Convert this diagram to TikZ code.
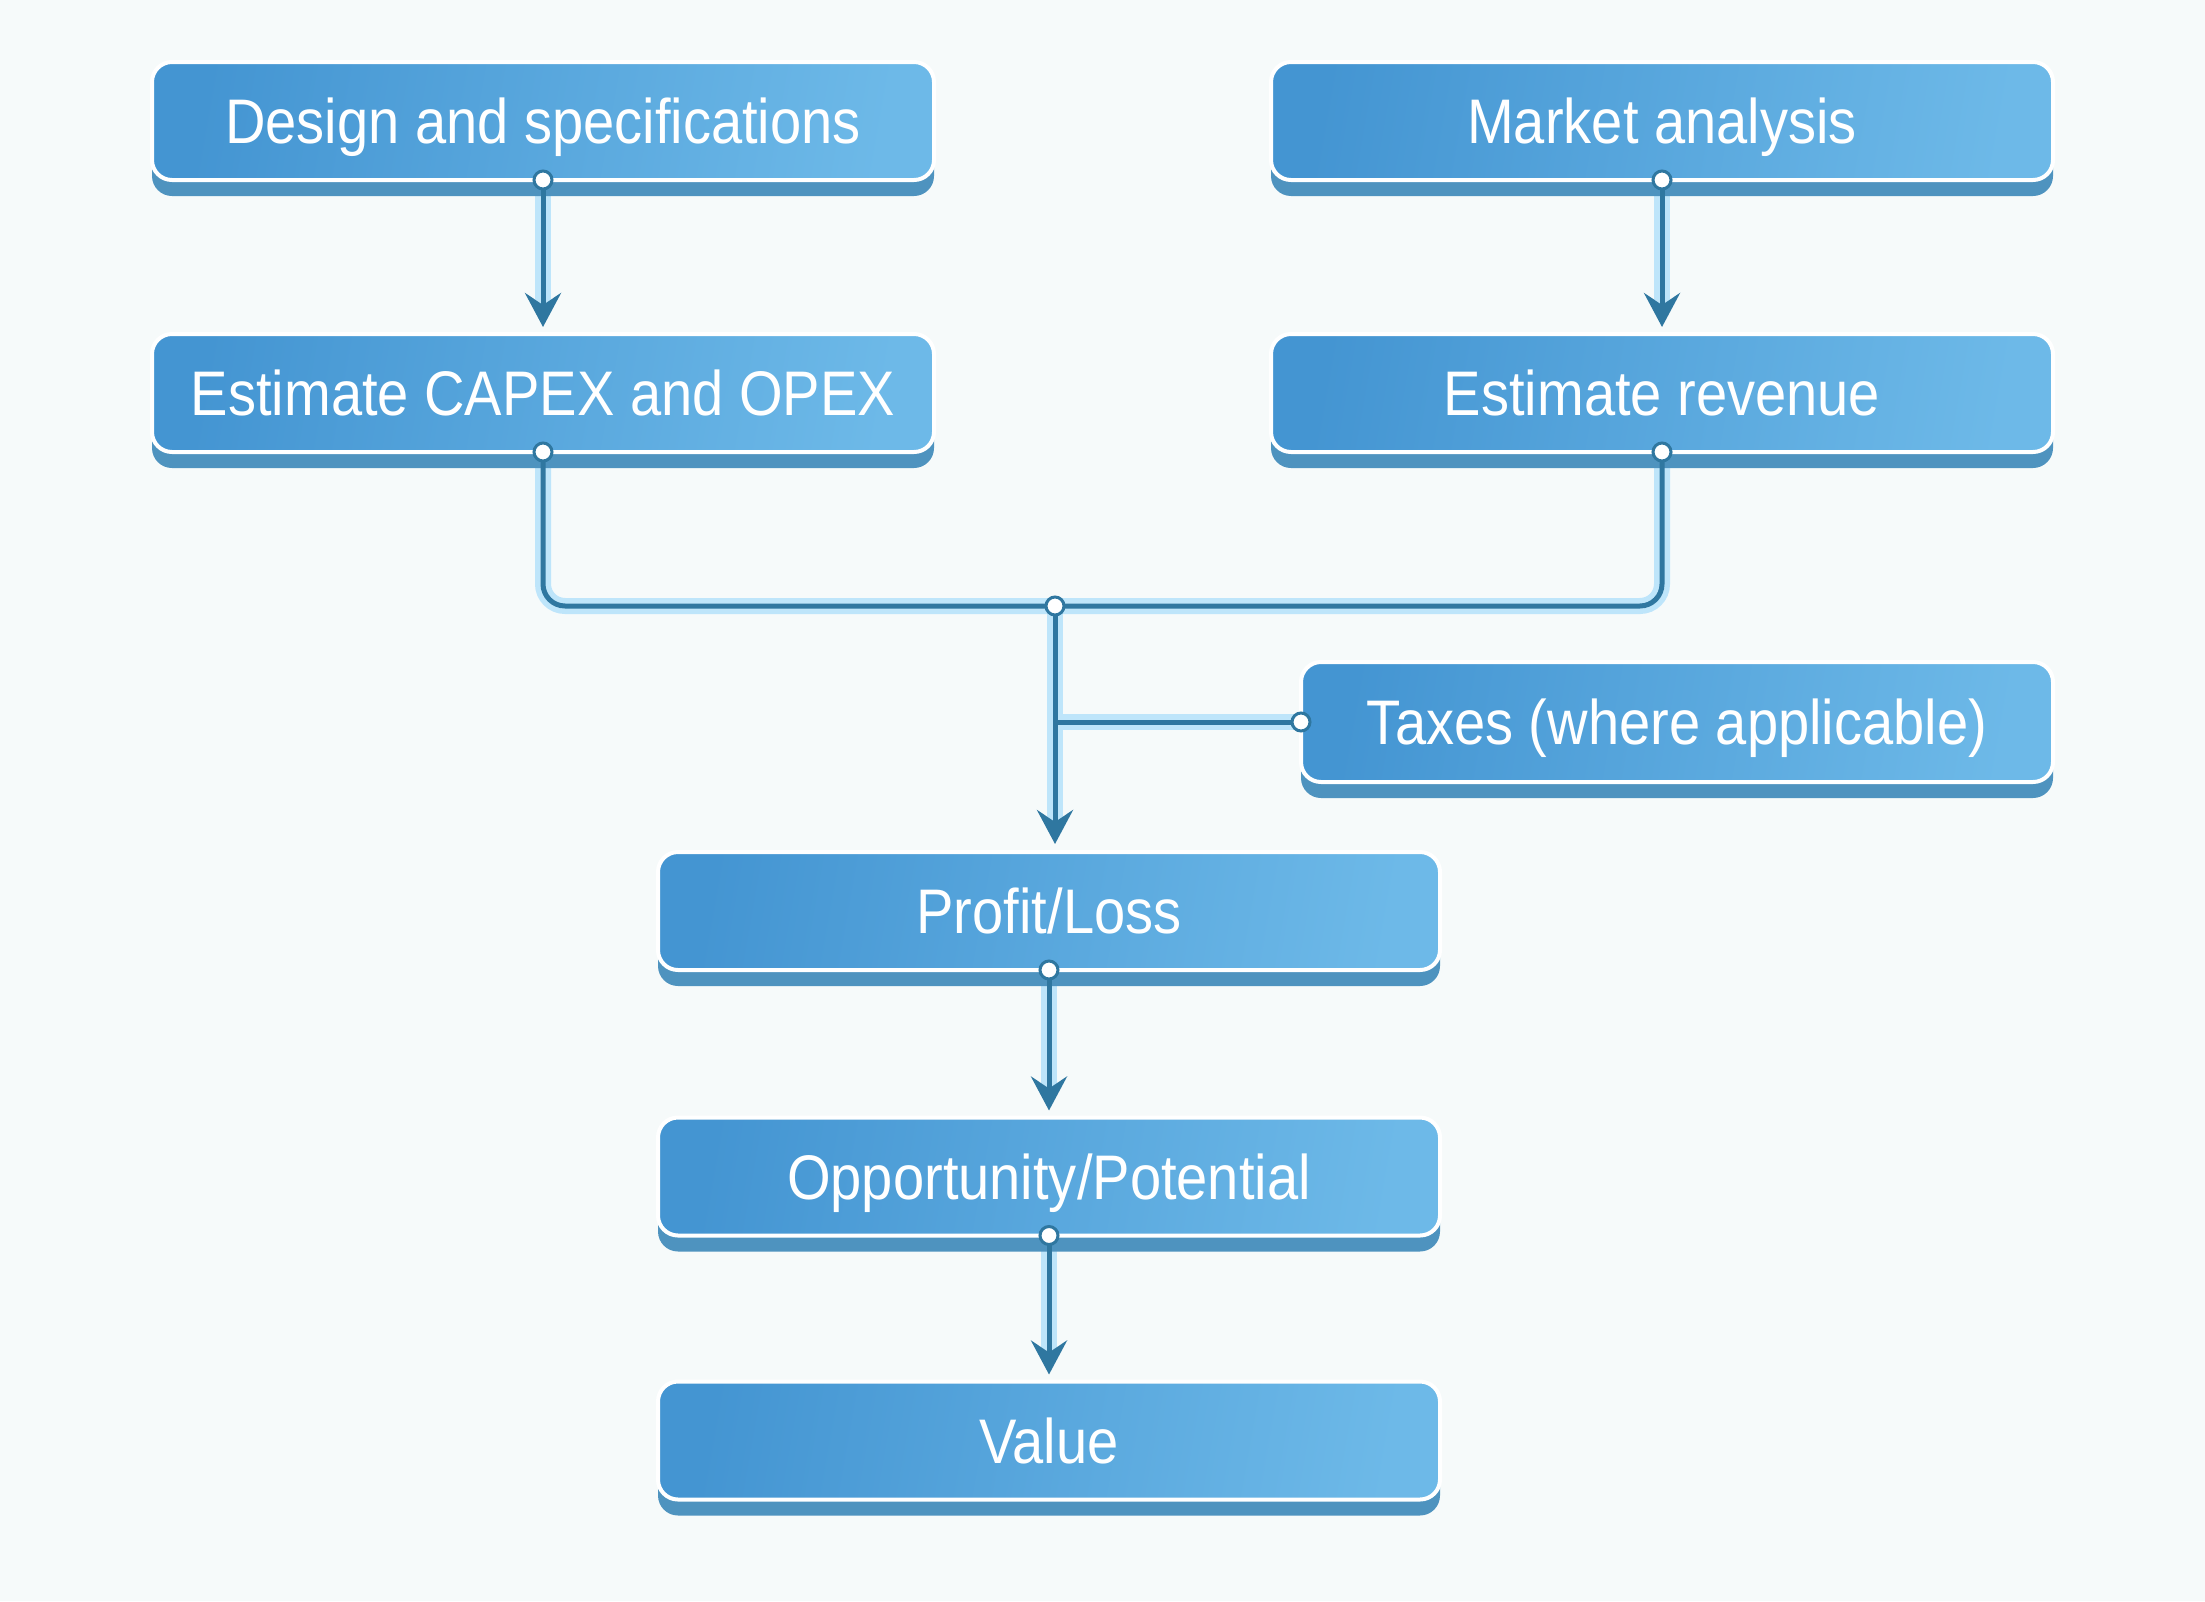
\documentclass[tikz,border=0pt]{standalone}
\usepackage{fontspec}
\setmainfont[FakeStretch=0.89]{Liberation Sans}
\usetikzlibrary{arrows.meta,shadows,calc}
\definecolor{bgc}{HTML}{F6FAFA}
\definecolor{boxL}{HTML}{4495D2}
\definecolor{boxR}{HTML}{6DB9E8}
\definecolor{boxS}{HTML}{4E93BF}
\definecolor{lineC}{HTML}{2F77A0}
\definecolor{haloC}{HTML}{BEE5FA}
\pgfdeclarelayer{back}
\pgfdeclarelayer{halolayer}
\pgfsetlayers{back,halolayer,main}
\begin{document}
\begin{tikzpicture}[x=1pt,y=-1pt,
  flowbox/.style={rounded corners=20pt, left color=boxL, right color=boxR,
    shading angle=80,
    draw=white, line width=4pt, minimum width=782pt, minimum height=118pt,
    outer sep=0pt, inner sep=0pt, text=white,
    text height=45pt, text depth=0pt,
    font=\fontsize{63}{76}\selectfont,
    drop shadow={shadow xshift=0pt, shadow yshift=-16pt, fill=boxS, opacity=1}},
  halo/.style={haloC, line width=16pt, xshift=3pt, yshift=-3pt},
  wire/.style={lineC, line width=5pt},
  arr/.style={wire, -{Stealth[length=34pt,width=36pt,inset=12pt]}},
  port/.style={fill=white, draw=lineC, line width=3pt}
]
\useasboundingbox (0,0) rectangle (2205,1601);
\begin{pgfonlayer}{back}
\fill[bgc] (0,0) rectangle (2205,1601);
\end{pgfonlayer}

\node[flowbox] (design) at (543,121) {Design and specifications};
\node[flowbox] (market) at (1662,121) {Market analysis};
\node[flowbox] (capex) at (543,393) {Estimate CAPEX and OPEX};
\node[flowbox] (revenue) at (1662,393) {Estimate revenue};
\node[flowbox, minimum width=752pt, minimum height=120pt] (taxes) at (1677,722) {Taxes (where applicable)};
\node[flowbox] (profit) at (1049,911) {Profit/Loss};
\node[flowbox] (opp) at (1049,1176.5) {Opportunity/Potential};
\node[flowbox] (value) at (1049,1440.5) {Value};

\coordinate (j) at (1055,606);
\coordinate (tj) at (taxes.west -| j);

\begin{pgfonlayer}{halolayer}
\draw[halo, shorten >=26pt] (design.south) -- (capex.north);
\draw[halo, shorten >=26pt] (market.south) -- (revenue.north);
\draw[halo, rounded corners=22pt] (capex.south) -- (capex.south |- j) -- (revenue.south |- j) -- (revenue.south);
\draw[halo, shorten >=30pt] (j) -- (j |- profit.north);
\draw[halo] (taxes.west) -- (tj);
\draw[halo, shorten >=26pt] (profit.south) -- (opp.north);
\draw[halo, shorten >=26pt] (opp.south) -- (value.north);
\end{pgfonlayer}

\draw[arr, shorten >=7pt] (design.south) -- (capex.north);
\draw[arr, shorten >=7pt] (market.south) -- (revenue.north);
\draw[wire, rounded corners=22pt] (capex.south) -- (capex.south |- j) -- (revenue.south |- j) -- (revenue.south);
\draw[arr, shorten >=8pt] (j) -- (j |- profit.north);
\draw[wire] (taxes.west) -- (tj);
\draw[arr, shorten >=7pt] (profit.south) -- (opp.north);
\draw[arr, shorten >=7pt] (opp.south) -- (value.north);

\foreach \p in {design.south, market.south, capex.south, revenue.south, j, taxes.west, profit.south, opp.south}
  \draw[port] (\p) circle (9pt);
\end{tikzpicture}
\end{document}
